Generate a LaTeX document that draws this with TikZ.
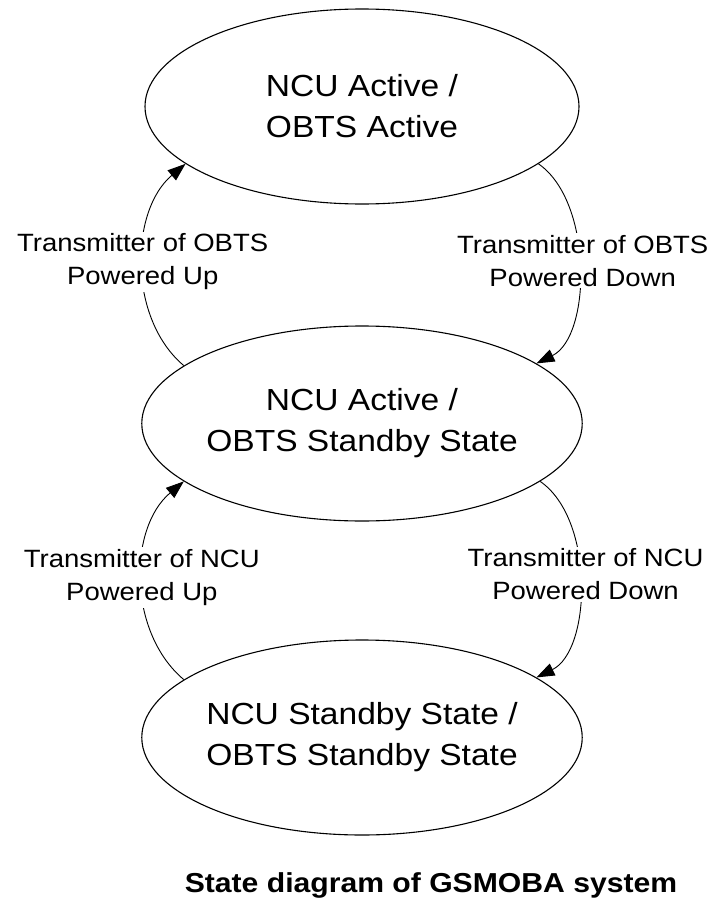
\documentclass[tikz,border=0pt]{standalone}
\usepackage{fontspec}
\setmainfont{Liberation Sans}
\newfontfamily\diagfont[FakeStretch=1.1]{Liberation Sans}
\usetikzlibrary{arrows.meta,shapes.geometric}
\begin{document}
\begin{tikzpicture}[x=1pt,y=-1pt,
  state/.style={draw, ellipse, line width=1.1pt, minimum width=434pt,
    minimum height=195pt, inner sep=0pt, align=center,
    font=\diagfont\fontsize{30.5}{41}\selectfont},
  trans/.style={line width=0.9pt, -{Triangle[length=18pt,width=13pt]}},
  tlabel/.style={fill=white, inner sep=2pt, align=center,
    font=\diagfont\fontsize{25}{33}\selectfont},
]
\useasboundingbox (0,0) rectangle (713,907);

% states
\node[state] (s1) at (362,106.5) {NCU Active /\\OBTS Active};
\node[state] (s2) at (362,423.5) {NCU Active /\\OBTS Standby State};
\node[state] (s3) at (362,737.5) {NCU Standby State /\\OBTS Standby State};

% transitions between the upper two states
\draw[trans] (s2.162) .. controls +(-56,-47) and +(-56,47) .. (s1.198)
  node[tlabel, pos=0.5, yshift=3pt] {Transmitter of OBTS\\Powered Up};
\draw[trans] (s1.-18.5) .. controls +(55,38) and +(55,-27) .. (s2.19.6)
  node[tlabel, pos=0.5, xshift=4pt, yshift=7pt] {Transmitter of OBTS\\Powered Down};

% transitions between the lower two states
\draw[trans] (s3.162) .. controls +(-56,-47) and +(-56,47) .. (s2.198)
  node[tlabel, pos=0.5, yshift=3pt] {Transmitter of NCU\\Powered Up};
\draw[trans] (s2.-18.5) .. controls +(55,38) and +(55,-27) .. (s3.19.6)
  node[tlabel, pos=0.5, xshift=6pt, yshift=9pt] {Transmitter of NCU\\Powered Down};

% caption
\node[font=\diagfont\bfseries\fontsize{27.4}{32}\selectfont] (cap) at (431,885)
  {State diagram of GSMOBA system};
\end{tikzpicture}
\end{document}
